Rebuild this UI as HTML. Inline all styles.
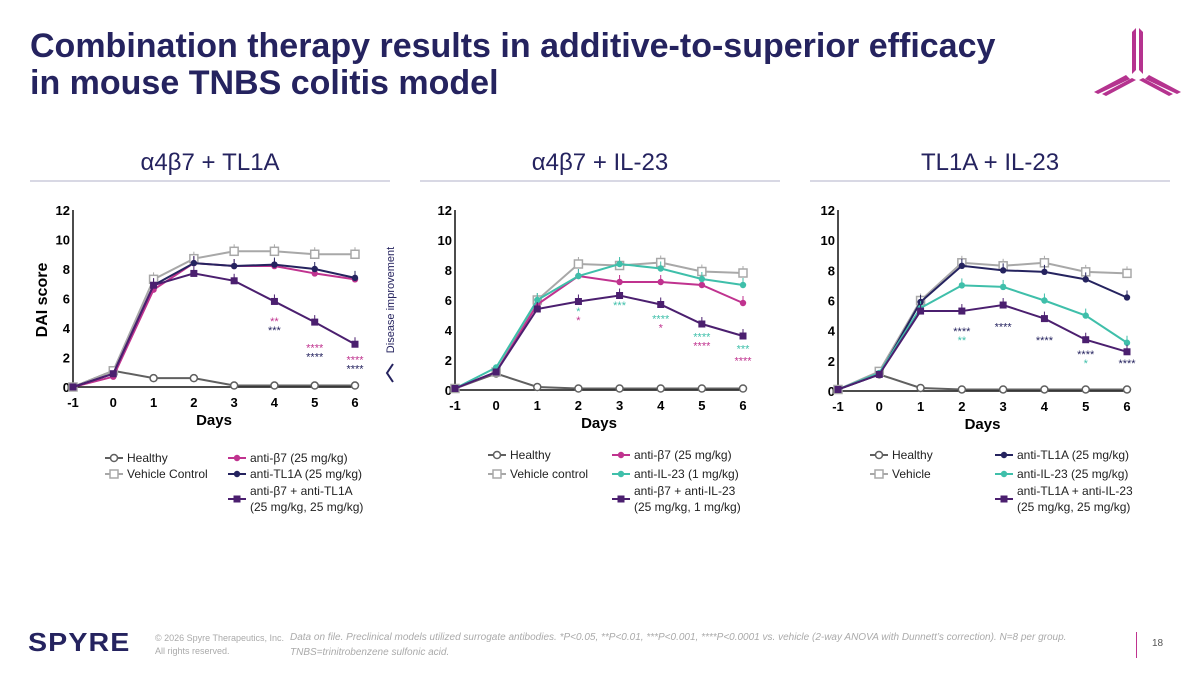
<!DOCTYPE html>
<html><head><meta charset="utf-8"><style>
body{margin:0;width:1200px;height:675px;background:#fff;font-family:"Liberation Sans",sans-serif;position:relative;overflow:hidden}
.t{position:absolute;white-space:nowrap}
</style></head><body>
<div class="t" style="left:30px;top:28px;font-size:34px;font-weight:bold;color:#25235f;line-height:37px">Combination therapy results in additive-to-superior efficacy<br>in mouse TNBS colitis model</div>
<svg style="position:absolute;left:1092px;top:22px" width="90" height="75" viewBox="0 0 90 75">
<polygon points="40,10 44,6 44,48 40,52" fill="#b5338f"/><polygon points="47,6 51,10 51,52 47,48" fill="#b5338f"/>
<polygon points="38,57 6,72 2,70 34,53" fill="#b5338f"/><polygon points="40,60 10,76 6,74 36,58" fill="#b5338f" transform="translate(4,-2)"/>
<polygon points="53,57 85,72 89,70 57,53" fill="#b5338f"/><polygon points="51,60 81,76 85,74 55,58" fill="#b5338f" transform="translate(-4,-2)"/>
</svg>
<svg id="main" width="1200" height="675" style="position:absolute;left:0;top:0" font-family="Liberation Sans, sans-serif"></svg>
<div class="t" style="left:28px;top:627px;font-size:26px;font-weight:bold;color:#25235f;letter-spacing:1px;transform:scaleX(1.1);transform-origin:left">SPYRE</div>
<div class="t" style="left:155px;top:632px;font-size:9px;color:#aaa;line-height:13px">© 2026 Spyre Therapeutics, Inc.<br>All rights reserved.</div>
<div class="t" style="left:290px;top:630px;font-size:10px;color:#aaa;font-style:italic;line-height:15px">Data on file. Preclinical models utilized surrogate antibodies. *P&lt;0.05, **P&lt;0.01, ***P&lt;0.001, ****P&lt;0.0001 vs. vehicle (2-way ANOVA with Dunnett’s correction). N=8 per group.<br>TNBS=trinitrobenzene sulfonic acid.</div>
<div style="position:absolute;left:1136px;top:632px;width:1px;height:26px;background:#c0338f"></div>
<div class="t" style="left:1152px;top:638px;font-size:10px;color:#555">18</div>
<script>
const days=[-1,0,1,2,3,4,5,6];
const c1Healthy=[0,1.1,0.6,0.6,0.1,0.1,0.1,0.1];
const c1Vehicle=[0,1.1,7.3,8.7,9.2,9.2,9.0,9.0];
const c1B7=[0,0.7,6.6,8.4,8.2,8.2,7.7,7.3];
const c1TL1A=[0,0.9,6.9,8.4,8.2,8.3,8.0,7.4];
const c1Combo=[0,0.9,6.9,7.7,7.2,5.8,4.4,2.9];
const c2Healthy=[0.1,1.1,0.2,0.1,0.1,0.1,0.1,0.1];
const c2Vehicle=[0.1,1.2,6.0,8.4,8.3,8.5,7.9,7.8];
const c2B7=[0.1,1.2,5.7,7.6,7.2,7.2,7.0,5.8];
const c2IL23=[0.1,1.5,6.0,7.6,8.4,8.1,7.4,7.0];
const c2Combo=[0.1,1.2,5.4,5.9,6.3,5.7,4.4,3.6];
const c3Healthy=[0.1,1.1,0.2,0.1,0.1,0.1,0.1,0.1];
const c3Vehicle=[0.1,1.3,6.0,8.5,8.3,8.5,7.9,7.8];
const c3TL1A=[0.1,1.1,5.9,8.3,8.0,7.9,7.4,6.2];
const c3IL23=[0.1,1.2,5.5,7.0,6.9,6.0,5.0,3.2];
const c3Combo=[0.1,1.1,5.3,5.3,5.7,4.8,3.4,2.6];
const yTicks=[0,2,4,6,8,10,12];
const titles=["α4β7 + TL1A","α4β7 + IL-23","TL1A + IL-23"];
const c1Stars=[[4,"**","#c0338f",4.2],[4,"***","#25235f",3.6],[5,"****","#c0338f",2.4],[5,"****","#25235f",1.8],[6,"****","#c0338f",1.6],[6,"****","#25235f",1.0]];
const c2Stars=[[2,"*","#3fbfaa",5.0],[2,"*","#c0338f",4.4],[3,"***","#3fbfaa",5.4],[4,"****","#3fbfaa",4.5],[4,"*","#c0338f",3.9],[5,"****","#3fbfaa",3.3],[5,"****","#c0338f",2.7],[6,"***","#3fbfaa",2.5],[6,"****","#c0338f",1.7]];
const c3Stars=[[2,"****","#25235f",3.7],[2,"**","#3fbfaa",3.1],[3,"****","#25235f",4.0],[4,"****","#25235f",3.1],[5,"****","#25235f",2.2],[5,"*","#3fbfaa",1.6],[6,"****","#25235f",1.6]];
const NS="http://www.w3.org/2000/svg",svg=document.getElementById('main');
function el(t,a,p){const e=document.createElementNS(NS,t);for(const k in a)e.setAttribute(k,a[k]);(p||svg).appendChild(e);return e;}
const GRAY="#a8a8a8",HL="#606060",MAG="#c0338f",NAV="#25235f",PUR="#4b1f6f",TEAL="#3fbfaa";
const charts=[
 {x0:73,x6:355,y0:387,y12:210,ser:[[c1Healthy,HL,"circle","healthy"],[c1Vehicle,GRAY,"square","vehicle"],[c1B7,MAG,"dot","anti-b7"],[c1TL1A,NAV,"dot","anti-tl1a"],[c1Combo,PUR,"fsq","combo"]],stars:c1Stars,
  leg:[[105,458,HL,"circle","Healthy"],[105,474,GRAY,"square","Vehicle Control"],[228,458,MAG,"dot","anti-β7 (25 mg/kg)"],[228,474,NAV,"dot","anti-TL1A (25 mg/kg)"],[228,499,PUR,"fsq","anti-β7 + anti-TL1A","(25 mg/kg, 25 mg/kg)"]]},
 {x0:455,x6:743,y0:390,y12:210,ser:[[c2Healthy,HL,"circle","healthy"],[c2Vehicle,GRAY,"square","vehicle"],[c2B7,MAG,"dot","anti-b7"],[c2IL23,TEAL,"dot","anti-il23"],[c2Combo,PUR,"fsq","combo"]],stars:c2Stars,
  leg:[[488,455,HL,"circle","Healthy"],[488,474,GRAY,"square","Vehicle control"],[612,455,MAG,"dot","anti-β7 (25 mg/kg)"],[612,474,TEAL,"dot","anti-IL-23 (1 mg/kg)"],[612,499,PUR,"fsq","anti-β7 + anti-IL-23","(25 mg/kg, 1 mg/kg)"]]},
 {x0:838,x6:1127,y0:391,y12:210,ser:[[c3Healthy,HL,"circle","healthy"],[c3Vehicle,GRAY,"square","vehicle"],[c3TL1A,NAV,"dot","anti-tl1a"],[c3IL23,TEAL,"dot","anti-il23"],[c3Combo,PUR,"fsq","combo"]],stars:c3Stars,
  leg:[[870,455,HL,"circle","Healthy"],[870,474,GRAY,"square","Vehicle"],[995,455,NAV,"dot","anti-TL1A (25 mg/kg)"],[995,474,TEAL,"dot","anti-IL-23 (25 mg/kg)"],[995,499,PUR,"fsq","anti-TL1A + anti-IL-23","(25 mg/kg, 25 mg/kg)"]]}
];
function marker(g,kind,x,y,c){
 if(kind=="circle")el('circle',{cx:x,cy:y,r:3.5,fill:"#fff",stroke:c,"stroke-width":1.5},g);
 else if(kind=="square")el('rect',{x:x-4,y:y-4,width:8,height:8,fill:"#fff",stroke:c,"stroke-width":1.5},g);
 else if(kind=="dot")el('circle',{cx:x,cy:y,r:3.2,fill:c},g);
 else el('rect',{x:x-3.5,y:y-3.5,width:7,height:7,fill:c},g);
}
const panelX=[30,420,810];
charts.forEach((ch,i)=>{
 const g=el('g',{});
 
 
 const px=panelX[i];
 const tt=el('text',{x:px+180,y:170,"text-anchor":"middle","font-size":24,fill:"#25235f"},g);tt.textContent=titles[i];
 
 
 el('line',{x1:px,x2:px+360,y1:181,y2:181,stroke:"#b0b0c8","stroke-width":1},g);
 const X=d=>ch.x0+(d+1)*(ch.x6-ch.x0)/7, Y=v=>ch.y0-v*(ch.y0-ch.y12)/12;
 el('line',{x1:ch.x0,x2:ch.x0,y1:ch.y12,y2:ch.y0,stroke:"#111","stroke-width":1.5},g);
 el('line',{x1:ch.x0,x2:ch.x6,y1:ch.y0,y2:ch.y0,stroke:"#111","stroke-width":1.5},g);
 yTicks.forEach(v=>{const t=el('text',{x:ch.x0-3,y:Y(v)+5,"text-anchor":"end","font-size":13,"font-weight":"bold"},g);t.textContent=v;
  });
 days.forEach(d=>{const t=el('text',{x:X(d),y:ch.y0+20,"text-anchor":"middle","font-size":13,"font-weight":"bold"},g);t.textContent=d;
  });
 const xt=el('text',{x:(ch.x0+ch.x6)/2,y:ch.y0+38,"text-anchor":"middle","font-size":15,"font-weight":"bold"},g);xt.textContent="Days";
 
 ch.ser.forEach(s=>{
  const sg=el('g',{},g);
  
  
  el('polyline',{points:s[0].map((v,k)=>X(days[k])+","+Y(v)).join(" "),fill:"none",stroke:s[1],"stroke-width":2},sg);
  s[0].forEach((v,k)=>{ if(k>1&&s[3]!="healthy")el('line',{x1:X(days[k]),x2:X(days[k]),y1:Y(v),y2:Y(v)-7,stroke:s[1],"stroke-width":1},sg); marker(sg,s[2],X(days[k]),Y(v),s[1]);});
 });
 ch.stars.forEach(st=>{const t=el('text',{x:X(st[0]),y:Y(st[3]),"text-anchor":"middle","font-size":11,fill:st[2]},g);t.textContent=st[1];
  });
 ch.leg.forEach(l=>{
  const lg=el('g',{},g);
  
  
  el('line',{x1:l[0],x2:l[0]+18,y1:l[1],y2:l[1],stroke:l[2],"stroke-width":2},lg);
  marker(lg,l[3],l[0]+9,l[1],l[2]);
  if(l[5]){const a=el('text',{x:l[0]+22,y:l[1]-4,"font-size":12,fill:"#222"},lg);a.textContent=l[4];
   const b=el('text',{x:l[0]+22,y:l[1]+12,"font-size":12,fill:"#222"},lg);b.textContent=l[5];}
  else{const a=el('text',{x:l[0]+22,y:l[1]+4,"font-size":12,fill:"#222"},lg);a.textContent=l[4];}
 });
});
const yt=el('text',{x:0,y:0,transform:"translate(47,300) rotate(-90)","text-anchor":"middle","font-size":16,"font-weight":"bold"});yt.textContent="DAI score";

const di=el('text',{x:0,y:0,transform:"translate(394,300) rotate(-90)","text-anchor":"middle","font-size":11,fill:"#25235f"});di.textContent="Disease improvement";

el('polyline',{points:"393,364 387,373 393,382",fill:"none",stroke:"#25235f","stroke-width":2});
</script>
</body></html>
